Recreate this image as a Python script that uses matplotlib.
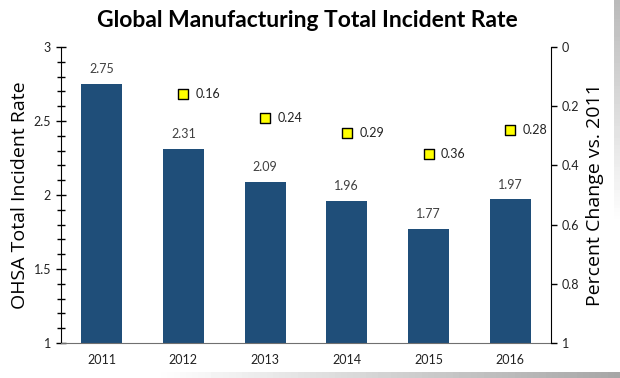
#!/usr/bin/env python3
"""Global manufacturing incident rate: bars + percent change markers."""

import matplotlib

matplotlib.use("Agg")
import matplotlib.pyplot as plt
import numpy as np
from matplotlib.ticker import MultipleLocator

years = ["2011", "2012", "2013", "2014", "2015", "2016"]
incident_rate = [2.75, 2.31, 2.09, 1.96, 1.77, 1.97]
change_years = ["2012", "2013", "2014", "2015", "2016"]
pct_change = [0.16, 0.24, 0.29, 0.36, 0.28]

BAR_COLOR = "#1F4E79"
plt.rcParams["font.family"] = ["Lato", "DejaVu Sans"]

fig = plt.figure(figsize=(6.2, 3.78), dpi=100)
fig.patch.set_facecolor("white")

# shadowed frame: right and bottom gradient bands
grad = np.linspace(0, 1, 100)
right_band = fig.add_axes([614 / 620, 6 / 378, 6 / 620, 1 - 6 / 378])
right_band.imshow(grad[:, None], aspect="auto", cmap="gray", vmin=-1.6, vmax=0.6, origin="upper")
right_band.axis("off")
bottom_band = fig.add_axes([0, 0, 1, 6 / 378])
bottom_band.imshow(grad[None, ::-1], aspect="auto", cmap="gray", vmin=-1.4, vmax=0.75)
bottom_band.axis("off")

ax = fig.add_axes([0.098, 0.0926, 0.791, 0.783])
xs = list(range(len(years)))
ax.bar(xs, incident_rate, width=0.5, color=BAR_COLOR, zorder=2)
for x, v in zip(xs, incident_rate):
    ax.text(x, v + 0.06, f"{v:.2f}", ha="center", va="bottom", fontsize=9, color="#404040")

ax.set_xlim(-0.5, len(years) - 0.5)
ax.set_ylim(1, 3)
ax.set_xticks(xs)
ax.set_xticklabels(years, fontsize=9, color="#222222")
ax.yaxis.set_minor_locator(MultipleLocator(0.1))
ax.set_yticks([1, 1.5, 2, 2.5, 3])
ax.set_yticklabels(["1", "1.5", "2", "2.5", "3"], fontsize=9, color="#222222")
ax.tick_params(axis="y", which="both", direction="inout", length=7, width=1)
ax.tick_params(axis="y", which="minor", length=6)
ax.tick_params(axis="x", length=0, pad=8)
for side in ["top", "right"]:
    ax.spines[side].set_visible(False)
ax.spines["bottom"].set_color("#707070")
ax.spines["left"].set_color("black")
ax.set_ylabel("OHSA Total Incident Rate", fontsize=14, family=["Open Sans", "DejaVu Sans"], labelpad=3)

ax2 = ax.twinx()
ax2.set_ylim(1, 0)
ax2.set_yticks([0, 0.2, 0.4, 0.6, 0.8, 1])
ax2.set_yticklabels(["0", "0.2", "0.4", "0.6", "0.8", "1"], fontsize=9, color="#222222")
ax2.tick_params(axis="y", direction="out", length=4, width=1)
for side in ["top", "left", "bottom"]:
    ax2.spines[side].set_visible(False)
cx = [years.index(y) for y in change_years]
ax2.scatter(cx, pct_change, marker="s", s=55, color="#FFFF00", edgecolor="black",
            linewidth=1, zorder=3)
for x, v in zip(cx, pct_change):
    ax2.annotate(f"{v:.2f}", (x, v), xytext=(9, 0), textcoords="offset points",
                 ha="left", va="center", fontsize=9, color="#222222")
ax2.set_ylabel("Percent Change vs. 2011", fontsize=14, family=["Open Sans", "DejaVu Sans"], labelpad=5)

fig.text(0.495, 0.945, "Global Manufacturing Total Incident Rate", ha="center", va="center",
         fontsize=16.5, fontweight="bold")

fig.savefig("out.png", dpi=100)
